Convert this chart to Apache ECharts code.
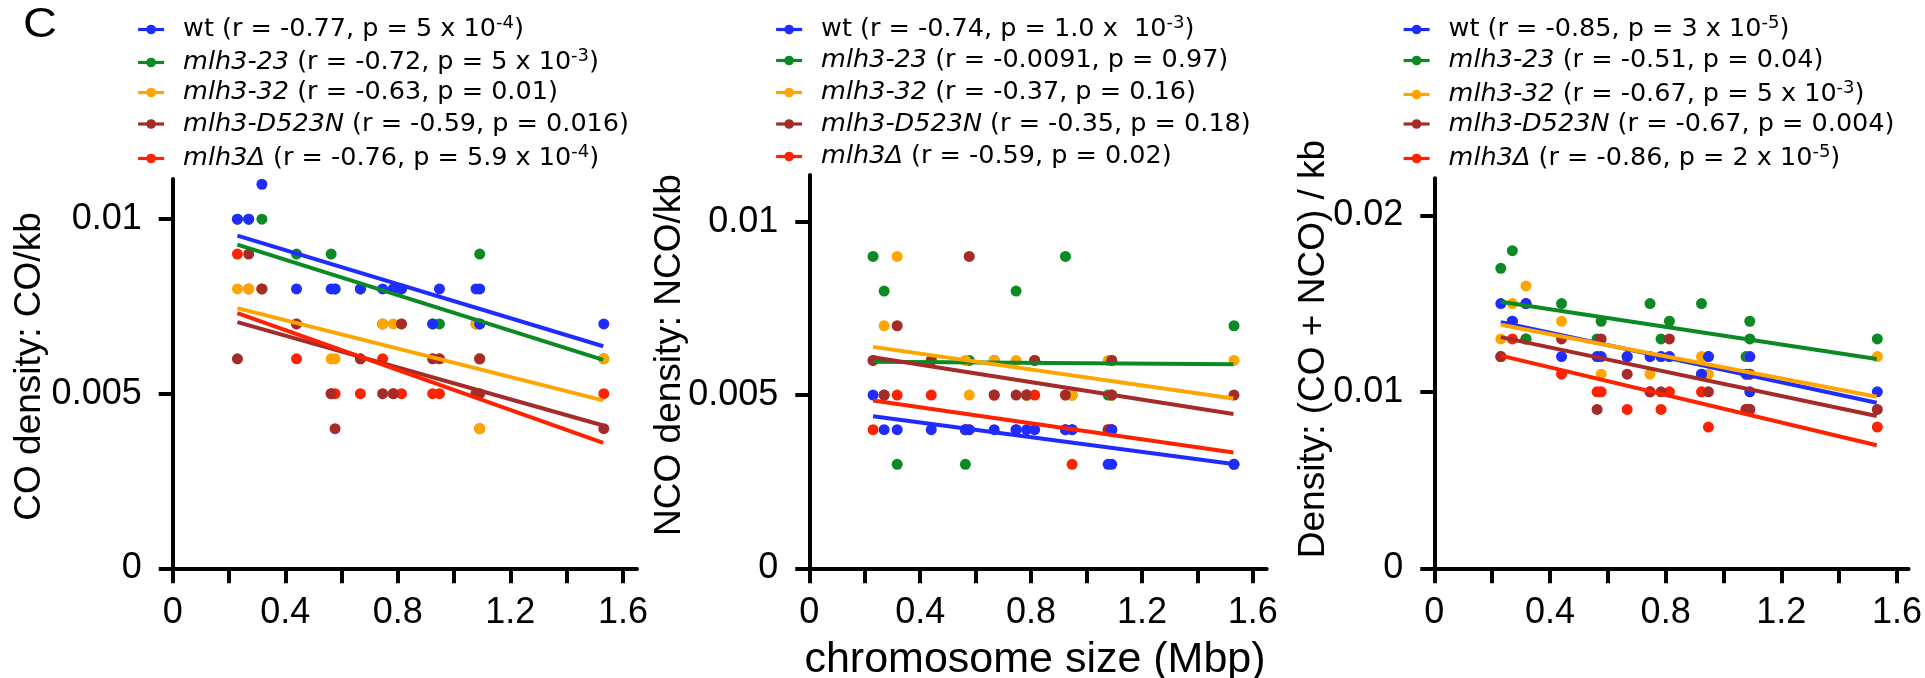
<!DOCTYPE html>
<html><head><meta charset="utf-8">
<script src="https://cdn.jsdelivr.net/npm/echarts@6/dist/echarts.min.js"></script>
<style>html,body{margin:0;padding:0;background:#fff}#c{width:1925px;height:678px}</style>
</head><body><div id="c"></div>
<script>
// chromosomes ordered by size
const chromosomes = ['I','VI','III','IX','VIII','V','XI','X','XIV','II','XIII','XVI','XII','VII','XV','IV'];
const sizeMbp = [0.230,0.270,0.317,0.440,0.563,0.577,0.667,0.746,0.784,0.813,0.924,0.948,1.078,1.091,1.091,1.532];
const genotypeKeys = ['wt','m23','m32','d523n','del'];
const colors = {wt:'#1f2cff', m23:'#0b8a24', m32:'#ffa500', d523n:'#a52a2a', del:'#ff2200'};
const drawOrder = ['del','m23','m32','d523n','wt'];

// Panel 1: CO density (CO/kb)
const coWt    = [0.010,0.010,0.011,0.008,0.008,0.008,0.008,0.008,0.008,0.008,0.007,0.008,0.008,0.008,0.007,0.007];
const coM23   = [0.010,0.010,0.010,0.009,0.009,0.008,0.008,0.007,0.008,0.008,0.007,0.007,0.007,0.009,0.007,0.006];
const coM32   = [0.008,0.008,0.008,0.007,0.006,0.006,0.006,0.007,0.007,0.007,0.006,0.006,0.007,0.004,0.006,0.006];
const coD523N = [0.006,0.009,0.008,0.007,0.005,0.004,0.006,0.005,0.005,0.007,0.006,0.006,0.005,0.006,0.005,0.004];
const coDel   = [0.009,0.008,0.008,0.006,0.005,0.005,0.005,0.006,0.005,0.005,0.005,0.005,0.005,0.006,0.004,0.005];

// Panel 2: NCO density (NCO/kb)
const ncoWt    = [0.005,0.004,0.004,0.004,0.004,0.004,0.004,0.004,0.004,0.004,0.004,0.004,0.003,0.004,0.003,0.003];
const ncoM23   = [0.009,0.008,0.003,0.006,0.003,0.006,0.006,0.008,0.005,0.006,0.009,0.005,0.005,0.006,0.005,0.007];
const ncoM32   = [0.006,0.007,0.009,0.006,0.006,0.005,0.006,0.006,0.005,0.006,0.005,0.005,0.006,0.006,0.005,0.006];
const ncoD523N = [0.006,0.005,0.007,0.006,0.004,0.009,0.005,0.005,0.005,0.006,0.005,0.004,0.004,0.006,0.005,0.005];
const ncoDel   = [0.004,0.005,0.005,0.005,0.004,0.004,0.005,0.004,0.005,0.005,0.004,0.003,0.004,0.004,0.004,0.003];

// Panel 3: (CO + NCO)/kb
const totWt    = [0.015,0.014,0.015,0.012,0.012,0.012,0.012,0.012,0.012,0.012,0.011,0.012,0.011,0.012,0.010,0.010];
const totM23   = [0.017,0.018,0.013,0.015,0.013,0.014,0.012,0.015,0.013,0.014,0.015,0.012,0.012,0.014,0.013,0.013];
const totM32   = [0.013,0.015,0.016,0.014,0.012,0.011,0.012,0.011,0.012,0.012,0.012,0.011,0.011,0.012,0.011,0.012];
const totD523N = [0.012,0.014,0.015,0.013,0.009,0.013,0.011,0.010,0.010,0.013,0.011,0.010,0.009,0.011,0.009,0.009];
const totDel   = [0.012,0.013,0.013,0.011,0.010,0.010,0.009,0.010,0.009,0.010,0.010,0.008,0.009,0.011,0.009,0.008];

// regression line end points at x = fitX[0], fitX[1]
const fitX = [0.23, 1.53];
const coFit  = {wt:[0.00953,0.00636], m23:[0.00927,0.00597], m32:[0.00745,0.00481], d523n:[0.00705,0.00409], del:[0.00731,0.00359]};
const ncoFit = {wt:[0.00439,0.00301], m23:[0.00596,0.00589], m32:[0.00639,0.00490], d523n:[0.00609,0.00445], del:[0.00484,0.00334]};
const totFit = {wt:[0.01395,0.00938], m23:[0.01511,0.01186], m32:[0.01380,0.00972], d523n:[0.01310,0.00863], del:[0.01205,0.00697]};

// legend labels (rich text: n normal, i italic, s superscript)
const coLegend = [
  '{n|wt (r = -0.77, p = 5 x 10}{s|-4}{n|)}',
  '{i|mlh3-23}{n| (r = -0.72, p = 5 x 10}{s|-3}{n|)}',
  '{i|mlh3-32}{n| (r = -0.63, p = 0.01)}',
  '{i|mlh3-D523N}{n| (r = -0.59, p = 0.016)}',
  '{i|mlh3Δ}{n| (r = -0.76, p = 5.9 x 10}{s|-4}{n|)}'
];
const ncoLegend = [
  '{n|wt (r = -0.74, p = 1.0 x  10}{s|-3}{n|)}',
  '{i|mlh3-23}{n| (r = -0.0091, p = 0.97)}',
  '{i|mlh3-32}{n| (r = -0.37, p = 0.16)}',
  '{i|mlh3-D523N}{n| (r = -0.35, p = 0.18)}',
  '{i|mlh3Δ}{n| (r = -0.59, p = 0.02)}'
];
const totLegend = [
  '{n|wt (r = -0.85, p = 3 x 10}{s|-5}{n|)}',
  '{i|mlh3-23}{n| (r = -0.51, p = 0.04)}',
  '{i|mlh3-32}{n| (r = -0.67, p = 5 x 10}{s|-3}{n|)}',
  '{i|mlh3-D523N}{n| (r = -0.67, p = 0.004)}',
  '{i|mlh3Δ}{n| (r = -0.86, p = 2 x 10}{s|-5}{n|)}'
];

const xTicks = [0,0.2,0.4,0.6,0.8,1.0,1.2,1.4,1.6];
const xLabels = [0,0.4,0.8,1.2,1.6];
const yTicks12 = [0,0.005,0.01];
const yTicks3 = [0,0.01,0.02];

const yTitles = ['CO density: CO/kb','NCO density: NCO/kb','Density: (CO + NCO) / kb'];
const xTitle = 'chromosome size (Mbp)';

const legendRowCenters = [27, 60, 92, 123.5, 156];
const legendTextHeight = 30;

const panels = [
  {vals:{wt:coWt,m23:coM23,m32:coM32,d523n:coD523N,del:coDel}, fit:coFit, legend:coLegend,
   grid:{left:172.7, top:179, width:464.3, height:389.3}, xmax:1.65, ymax:0.01115, yTicks:yTicks12,
   legendLeft:136.5},
  {vals:{wt:ncoWt,m23:ncoM23,m32:ncoM32,d523n:ncoD523N,del:ncoDel}, fit:ncoFit, legend:ncoLegend,
   grid:{left:809.3, top:175, width:457.4, height:393.3}, xmax:1.65, ymax:0.01135, yTicks:yTicks12,
   legendLeft:774.5},
  {vals:{wt:totWt,m23:totM23,m32:totM32,d523n:totD523N,del:totDel}, fit:totFit, legend:totLegend,
   grid:{left:1434.3, top:178.3, width:477.4, height:390}, xmax:1.64, ymax:0.0221, yTicks:yTicks3,
   legendLeft:1402}
];

const AX = '#000';
const labelFont = 'Liberation Sans, Arial, sans-serif';
const grids=[], xAxes=[], yAxes=[], series=[], legends=[];
const nameToLabel = {};
const LF = 'DejaVu Sans';

panels.forEach((p, pi) => {
  grids.push(Object.assign({containLabel:false}, p.grid));
  xAxes.push({
    type:'value', gridIndex:pi, min:0, max:p.xmax,
    axisLine:{show:true, onZero:false, lineStyle:{color:AX, width:4}},
    axisTick:{show:true, length:15, lineStyle:{color:AX, width:4}, customValues:xTicks},
    axisLabel:{color:AX, fontSize:36, fontFamily:labelFont, margin:27, customValues:xLabels},
    splitLine:{show:false}
  });
  yAxes.push({
    type:'value', gridIndex:pi, min:0, max:p.ymax,
    axisLine:{show:true, onZero:false, lineStyle:{color:AX, width:4}},
    axisTick:{show:true, length:14, lineStyle:{color:AX, width:4}, customValues:p.yTicks},
    axisLabel:{color:AX, fontSize:36, fontFamily:labelFont, margin:31, customValues:p.yTicks},
    splitLine:{show:false}
  });
  drawOrder.forEach(k => {
    series.push({
      type:'scatter', name:'p'+pi+'_'+k+'_pts', xAxisIndex:pi, yAxisIndex:pi,
      data: sizeMbp.map((x,i)=>[x, p.vals[k][i]]),
      symbol:'circle', symbolSize:11, itemStyle:{color:colors[k], opacity:1},
      emphasis:{disabled:true}, z:2
    });
  });
  genotypeKeys.forEach((k, gi) => {
    const nm = 'p'+pi+'_'+k;
    nameToLabel[nm] = p.legend[gi];
    series.push({
      type:'line', name:nm, xAxisIndex:pi, yAxisIndex:pi,
      data: fitX.map((x,i)=>[x, p.fit[k][i]]),
      showSymbol:false, symbol:'circle', symbolSize:8,
      lineStyle:{color:colors[k], width:4}, itemStyle:{color:colors[k]},
      emphasis:{disabled:true}, z:3
    });
    legends.push({
      data:[nm], orient:'vertical', left:p.legendLeft, top:legendRowCenters[gi] - legendTextHeight/2 + 2.5,
      padding:0, itemWidth:26, itemHeight:12, selectedMode:false,
      lineStyle:{width:3.2},
      formatter: n => nameToLabel[n],
      textStyle:{
        color:'#000', fontFamily:LF, fontSize:25.5, padding:[0,0,0,14],
        rich:{
          n:{color:'#000', fontFamily:LF, fontSize:25.5, lineHeight:legendTextHeight, verticalAlign:'middle'},
          i:{color:'#000', fontFamily:LF, fontStyle:'italic', fontSize:25.5, lineHeight:legendTextHeight, verticalAlign:'middle'},
          s:{color:'#000', fontFamily:LF, fontSize:18, lineHeight:18, verticalAlign:'top'}
        }
      }
    });
  });
});

const titleFont = '37px "Liberation Sans", Arial, sans-serif';
const graphics = [
  {type:'text', x:40, y:25, scaleX:1.12, style:{text:'C', font:'42px "Liberation Sans", Arial, sans-serif', fill:'#000', align:'center', verticalAlign:'middle'}},
  {type:'text', x:30, y:366.5, rotation:Math.PI/2, style:{text:yTitles[0], font:titleFont, fill:'#000', align:'center', verticalAlign:'middle'}},
  {type:'text', x:670, y:355, rotation:Math.PI/2, style:{text:yTitles[1], font:titleFont, fill:'#000', align:'center', verticalAlign:'middle'}},
  {type:'text', x:1313.5, y:349, rotation:Math.PI/2, style:{text:yTitles[2], font:titleFont, fill:'#000', align:'center', verticalAlign:'middle'}},
  {type:'text', x:1035, y:660, style:{text:xTitle, font:'43px "Liberation Sans", Arial, sans-serif', fill:'#000', align:'center', verticalAlign:'middle'}}
];

const chart = echarts.init(document.getElementById('c'), null, {renderer:'canvas'});
chart.setOption({
  animation:false, backgroundColor:'#fff',
  grid:grids, xAxis:xAxes, yAxis:yAxes, series:series, legend:legends, graphic:graphics
});
</script>
</body></html>
